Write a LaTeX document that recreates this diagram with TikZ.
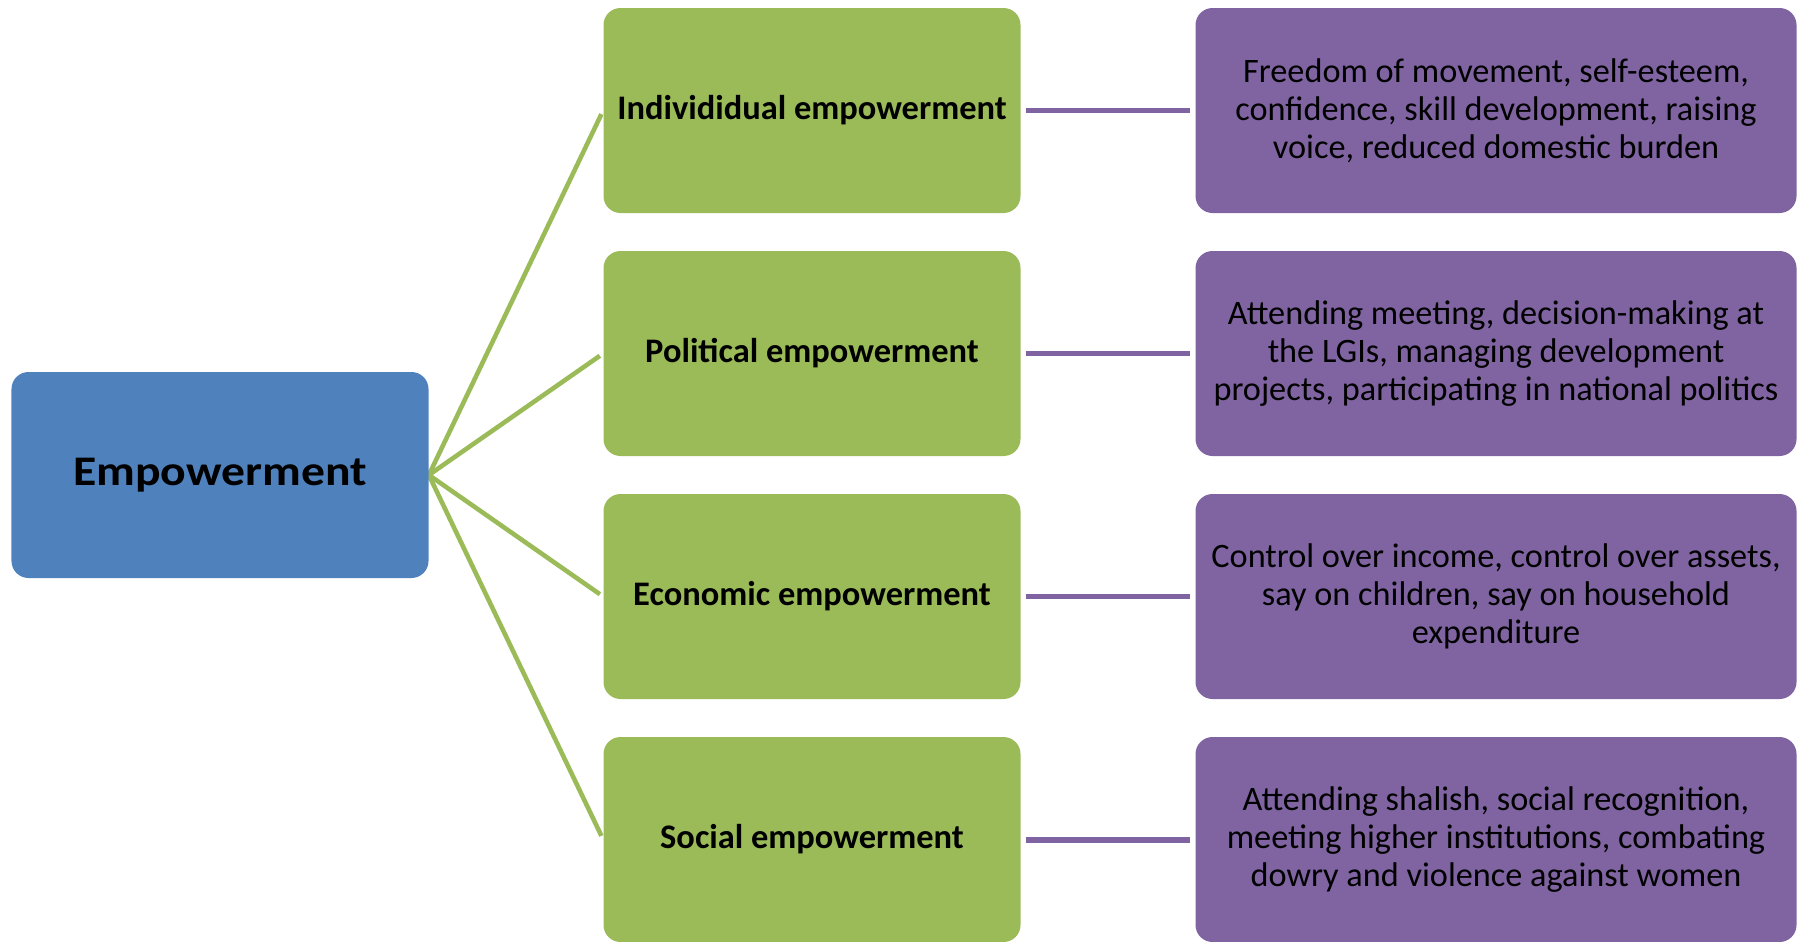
\documentclass[tikz,border=0pt]{standalone}
\usepackage{fontspec}
\setmainfont{Carlito}
\newfontfamily\rootfont[FakeStretch=1.13]{Carlito}
\usepackage{xcolor}
\usepackage{tikz}
\usetikzlibrary{backgrounds,positioning}
\pgfdeclarelayer{edgelayer}
\pgfdeclarelayer{nodelayer}
\pgfsetlayers{background,edgelayer,nodelayer,main}
\definecolor{empblue}{RGB}{79,129,189}
\definecolor{empgreen}{RGB}{155,187,89}
\definecolor{emppurple}{RGB}{128,100,162}
\tikzstyle{none}=[inner sep=0mm]
\tikzstyle{box}=[shape=rectangle,rounded corners=0.34cm,inner sep=0pt,align=center,text=black]
\tikzstyle{root}=[box,fill=empblue,minimum width=8.34cm,minimum height=4.12cm,font=\rootfont\fontsize{24}{29}\selectfont\bfseries]
\tikzstyle{dim}=[box,fill=empgreen,minimum width=8.34cm,minimum height=4.1cm,font=\fontsize{19.6}{21.6}\selectfont\bfseries]
\tikzstyle{facts}=[box,fill=emppurple,minimum width=12.02cm,minimum height=4.1cm,font=\fontsize{19.5}{21.6}\selectfont]
\tikzstyle{branch}=[draw=empgreen,line width=2.6pt,shorten >=0.08cm]
\tikzstyle{link}=[draw=emppurple,line width=3.4pt,shorten <=0.1cm,shorten >=0.11cm]

\begin{document}
\begin{tikzpicture}
	\useasboundingbox (0,0) rectangle (36.12,-18.82);
	\begin{pgfonlayer}{nodelayer}
		\node [style=root] (emp) at (4.40, -9.50) {Empowerment};
		\node [style=dim] (ind) at (16.24, -2.21) {Individidual empowerment};
		\node [style=dim] (pol) at (16.24, -7.07) {Political empowerment};
		\node [style=dim] (eco) at (16.24, -11.93) {Economic empowerment};
		\node [style=dim] (soc) at (16.24, -16.79) {Social empowerment};
		\node [style=facts] (ind-x) at (29.92, -2.21) {Freedom of movement, self-esteem,\\confidence, skill development, raising\\voice, reduced domestic burden};
		\node [style=facts] (pol-x) at (29.92, -7.07) {Attending meeting, decision-making at\\the LGIs, managing development\\projects, participating in national politics};
		\node [style=facts] (eco-x) at (29.92, -11.93) {Control over income, control over assets,\\say on children, say on household\\expenditure};
		\node [style=facts] (soc-x) at (29.92, -16.79) {Attending shalish, social recognition,\\meeting higher institutions, combating\\dowry and violence against women};
	\end{pgfonlayer}
	\begin{pgfonlayer}{edgelayer}
		\foreach \d in {ind,pol,eco,soc} {
			\draw [style=branch] (emp.east) to (\d.west);
			\draw [style=link] (\d.east) to (\d-x.west);
		}
	\end{pgfonlayer}
\end{tikzpicture}
\end{document}
